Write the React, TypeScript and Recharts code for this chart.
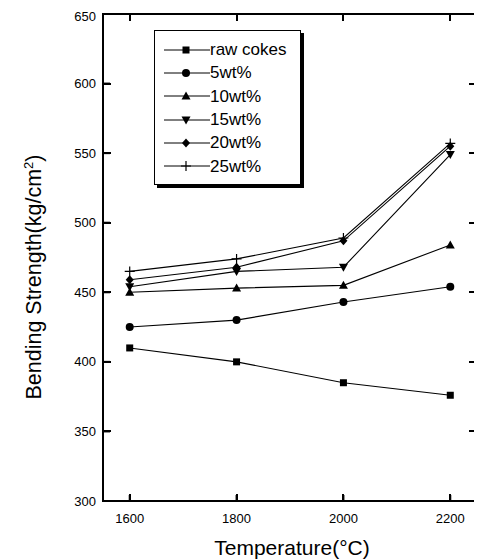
import React from 'react';
import { LineChart, Line, XAxis, YAxis, Legend } from 'recharts';

const temperatures = [1600, 1800, 2000, 2200];
const rawCokes = [410, 400, 385, 376];
const wt5 = [425, 430, 443, 454];
const wt10 = [450, 453, 455, 484];
const wt15 = [454, 465, 468, 549];
const wt20 = [459, 468, 487, 555];
const wt25 = [465, 474, 489, 557];

const xTicks = [1600, 1800, 2000, 2200];
const yTicks = [300, 350, 400, 450, 500, 550, 600, 650];
const xDomain: [number, number] = [1550, 2250];
const yDomain: [number, number] = [300, 650];

type Shape = 'square' | 'circle' | 'up' | 'down' | 'diamond' | 'plus';

const series: { key: string; name: string; values: number[]; shape: Shape }[] = [
  { key: 'raw', name: 'raw cokes', values: rawCokes, shape: 'square' },
  { key: 'w5', name: '5wt%', values: wt5, shape: 'circle' },
  { key: 'w10', name: '10wt%', values: wt10, shape: 'up' },
  { key: 'w15', name: '15wt%', values: wt15, shape: 'down' },
  { key: 'w20', name: '20wt%', values: wt20, shape: 'diamond' },
  { key: 'w25', name: '25wt%', values: wt25, shape: 'plus' },
];

const data = temperatures.map((t, i) => {
  const row: Record<string, number> = { t };
  series.forEach((s) => {
    row[s.key] = s.values[i];
  });
  return row;
});

const FONT = 'Arial, "Liberation Sans", Helvetica, sans-serif';

const CHART_W = 474;
const CHART_H = 552;
const MARGIN = { top: 6, right: 5, bottom: 29, left: 35 };
const Y_AXIS_W = 60;
const X_AXIS_H = 30;
const PLOT = {
  x: MARGIN.left + Y_AXIS_W,
  y: MARGIN.top,
  w: CHART_W - MARGIN.left - Y_AXIS_W - MARGIN.right,
  h: CHART_H - MARGIN.top - MARGIN.bottom - X_AXIS_H,
};

const Marker = ({ shape, cx, cy }: { shape: Shape; cx: number; cy: number }) => {
  if (cx == null || cy == null) return null;
  switch (shape) {
    case 'square':
      return <rect x={cx - 3.5} y={cy - 3.5} width={7} height={7} fill="#000" />;
    case 'circle':
      return <circle cx={cx} cy={cy} r={4} fill="#000" />;
    case 'up':
      return <path d={`M${cx},${cy - 4.5} L${cx + 4.5},${cy + 3.5} L${cx - 4.5},${cy + 3.5} Z`} fill="#000" />;
    case 'down':
      return <path d={`M${cx},${cy + 4.5} L${cx + 4.5},${cy - 3.5} L${cx - 4.5},${cy - 3.5} Z`} fill="#000" />;
    case 'diamond':
      return <path d={`M${cx},${cy - 4.5} L${cx + 4},${cy} L${cx},${cy + 4.5} L${cx - 4},${cy} Z`} fill="#000" />;
    case 'plus':
      return (
        <path d={`M${cx - 5},${cy} L${cx + 5},${cy} M${cx},${cy - 5} L${cx},${cy + 5}`} stroke="#000" strokeWidth={1.2} fill="none" />
      );
  }
  return null;
};

const LegendBox = () => (
  <div
    style={{
      border: '1px solid #000',
      boxShadow: '3px 3px 0 #000',
      background: '#fff',
      padding: '7px 0 6px 9px',
      width: 136,
      boxSizing: 'content-box',
    }}
  >
    {series.map((s) => (
      <div key={s.key} style={{ display: 'flex', alignItems: 'center', height: 23.3 }}>
        <svg width={46} height={14} style={{ display: 'block', flex: 'none' }}>
          <line x1={0} y1={7} x2={46} y2={7} stroke="#000" strokeWidth={1} />
          <Marker shape={s.shape} cx={22} cy={7} />
        </svg>
        <span style={{ fontFamily: FONT, fontSize: 17, color: '#000', lineHeight: '17px', whiteSpace: 'nowrap' }}>{s.name}</span>
      </div>
    ))}
  </div>
);

const YTitle = () => (
  <text transform="translate(33, 269) rotate(-90)" textAnchor="middle" fontSize={21.5} fontFamily={FONT} fill="#000">
    Bending Strength(kg/cm
    <tspan dy={-8} fontSize={13}>2</tspan>
    <tspan dy={8}>)</tspan>
  </text>
);

const XTitle = () => (
  <text x={284} y={547} textAnchor="middle" fontSize={21} fontFamily={FONT} fill="#000">
    Temperature(°C)
  </text>
);

const FrameOverlay = () => {
  const sx = (v: number) => PLOT.x + ((v - xDomain[0]) / (xDomain[1] - xDomain[0])) * PLOT.w;
  const sy = (v: number) => PLOT.y + PLOT.h - ((v - yDomain[0]) / (yDomain[1] - yDomain[0])) * PLOT.h;
  const tick = (left: number, top: number, width: number, height: number, key: string) => (
    <div key={key} style={{ position: 'absolute', left, top, width, height, background: '#000' }} />
  );
  return (
    <div style={{ position: 'absolute', left: 0, top: 0, width: CHART_W, height: CHART_H, pointerEvents: 'none', zIndex: 5 }}>
      <div
        style={{
          position: 'absolute',
          left: PLOT.x - 1,
          top: PLOT.y - 1,
          width: PLOT.w + 3,
          height: PLOT.h + 2,
          boxSizing: 'border-box',
          border: '2px solid #000',
          borderRightWidth: 3,
        }}
      />
      {xTicks.map((t) => tick(Math.round(sx(t)) - 1, PLOT.y + PLOT.h - 7, 2, 7, `xb-${t}`))}
      {xTicks.map((t) => tick(Math.round(sx(t)) - 1, PLOT.y, 2, 7, `xt-${t}`))}
      {yTicks.map((t) => tick(PLOT.x, Math.round(sy(t)) - 1, 8, 2, `yl-${t}`))}
      {yTicks.map((t) => tick(PLOT.x + PLOT.w - 8, Math.round(sy(t)) - 1, 8, 2, `yr-${t}`))}
    </div>
  );
};

export default function App() {
  const tickStyle = { fontSize: 13, fontFamily: FONT, fill: '#000' };
  return (
    <div style={{ position: 'relative', width: CHART_W, height: CHART_H }}>
      <LineChart width={CHART_W} height={CHART_H} data={data} margin={MARGIN}>
        <XAxis
          type="number"
          dataKey="t"
          domain={xDomain}
          ticks={xTicks}
          height={X_AXIS_H}
          stroke="#000"
          strokeWidth={2}
          tickSize={-6}
          tickMargin={19}
          tick={tickStyle}
          label={<XTitle />}
        />
        <YAxis
          type="number"
          domain={yDomain}
          ticks={yTicks}
          width={Y_AXIS_W}
          stroke="#000"
          strokeWidth={2}
          tickSize={-7}
          tickMargin={14}
          tick={tickStyle}
          label={<YTitle />}
        />
        <Legend
          layout="horizontal"
          verticalAlign="middle"
          align="center"
          content={<LegendBox />}
          wrapperStyle={{ left: 146, top: 22, width: 147, height: 'auto' }}
        />
        {series.map((s) => (
          <Line
            key={s.key}
            dataKey={s.key}
            name={s.name}
            stroke="#000"
            strokeWidth={1.1}
            isAnimationActive={false}
            dot={(p: any) => <Marker key={`${s.key}-${p.index}`} shape={s.shape} cx={p.cx} cy={p.cy} />}
            activeDot={false}
          />
        ))}
      </LineChart>
      <FrameOverlay />
    </div>
  );
}
